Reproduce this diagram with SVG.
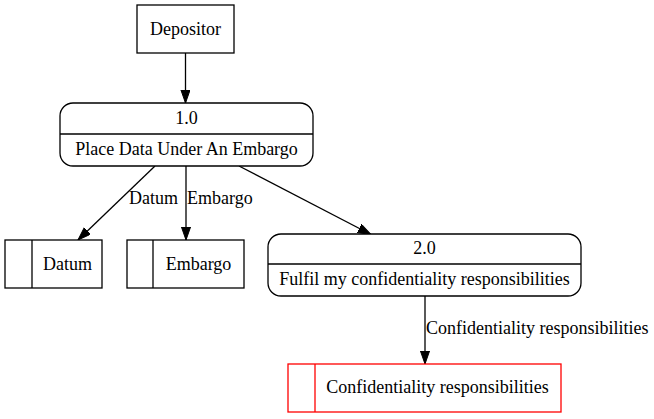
<svg xmlns="http://www.w3.org/2000/svg" width="654" height="419" viewBox="0 0 654 419">
<defs>
<style>
text{font-family:"Liberation Serif","Times New Roman",serif;font-size:18px;fill:#000}
.c{text-anchor:middle}
.n{fill:#fff;stroke:#000;stroke-width:1.3}
.r{fill:#fff;stroke:#ff0000;stroke-width:1.3}
.e{fill:none;stroke:#000;stroke-width:1.3}
</style>
<marker id="ah" markerUnits="userSpaceOnUse" markerWidth="14" markerHeight="10" refX="13.3" refY="4.67" orient="auto">
<path d="M0,0 L13.3,4.67 L0,9.33 z" fill="#000" stroke="#000" stroke-width="1"/>
</marker>
</defs>
<rect width="654" height="419" fill="#fff"/>
<g id="connectors">
<line class="e" x1="185.5" y1="53" x2="185.5" y2="103" marker-end="url(#ah)"/>
<line class="e" x1="155" y1="166" x2="78" y2="240" marker-end="url(#ah)"/>
<line class="e" x1="186" y1="166" x2="186" y2="240" marker-end="url(#ah)"/>
<line class="e" x1="239" y1="166" x2="371" y2="234.5" marker-end="url(#ah)"/>
<line class="e" x1="425" y1="296" x2="425" y2="364" marker-end="url(#ah)"/>
<text x="129" y="204">Datum</text>
<text x="187" y="204">Embargo</text>
<text x="426" y="334">Confidentiality responsibilities</text>
</g>
<g id="depositor">
<rect class="n" x="137" y="5" width="97" height="48"/>
<text class="c" x="185.5" y="35">Depositor</text>
</g>
<g id="p1">
<rect class="n" x="60" y="103" width="253" height="63" rx="13" ry="13"/>
<line class="e" x1="60" y1="134" x2="313" y2="134"/>
<text class="c" x="186.5" y="124">1.0</text>
<text class="c" x="186.5" y="155">Place Data Under An Embargo</text>
</g>
<g id="datum">
<rect class="n" x="5" y="240" width="97" height="48"/>
<line class="e" x1="32" y1="240" x2="32" y2="288"/>
<text class="c" x="67.5" y="270">Datum</text>
</g>
<g id="embargo">
<rect class="n" x="127" y="240" width="117" height="48"/>
<line class="e" x1="153" y1="240" x2="153" y2="288"/>
<text class="c" x="198.5" y="270">Embargo</text>
</g>
<g id="p2">
<rect class="n" x="268" y="234" width="313" height="62" rx="13" ry="13"/>
<line class="e" x1="268" y1="264" x2="581" y2="264"/>
<text class="c" x="424.5" y="254">2.0</text>
<text class="c" x="424.5" y="285">Fulfil my confidentiality responsibilities</text>
</g>
<g id="conf">
<rect class="r" x="288" y="364" width="273" height="48"/>
<line x1="315" y1="364" x2="315" y2="412" stroke="#ff0000" stroke-width="1.3"/>
<text class="c" x="437.5" y="393">Confidentiality responsibilities</text>
</g>
</svg>
